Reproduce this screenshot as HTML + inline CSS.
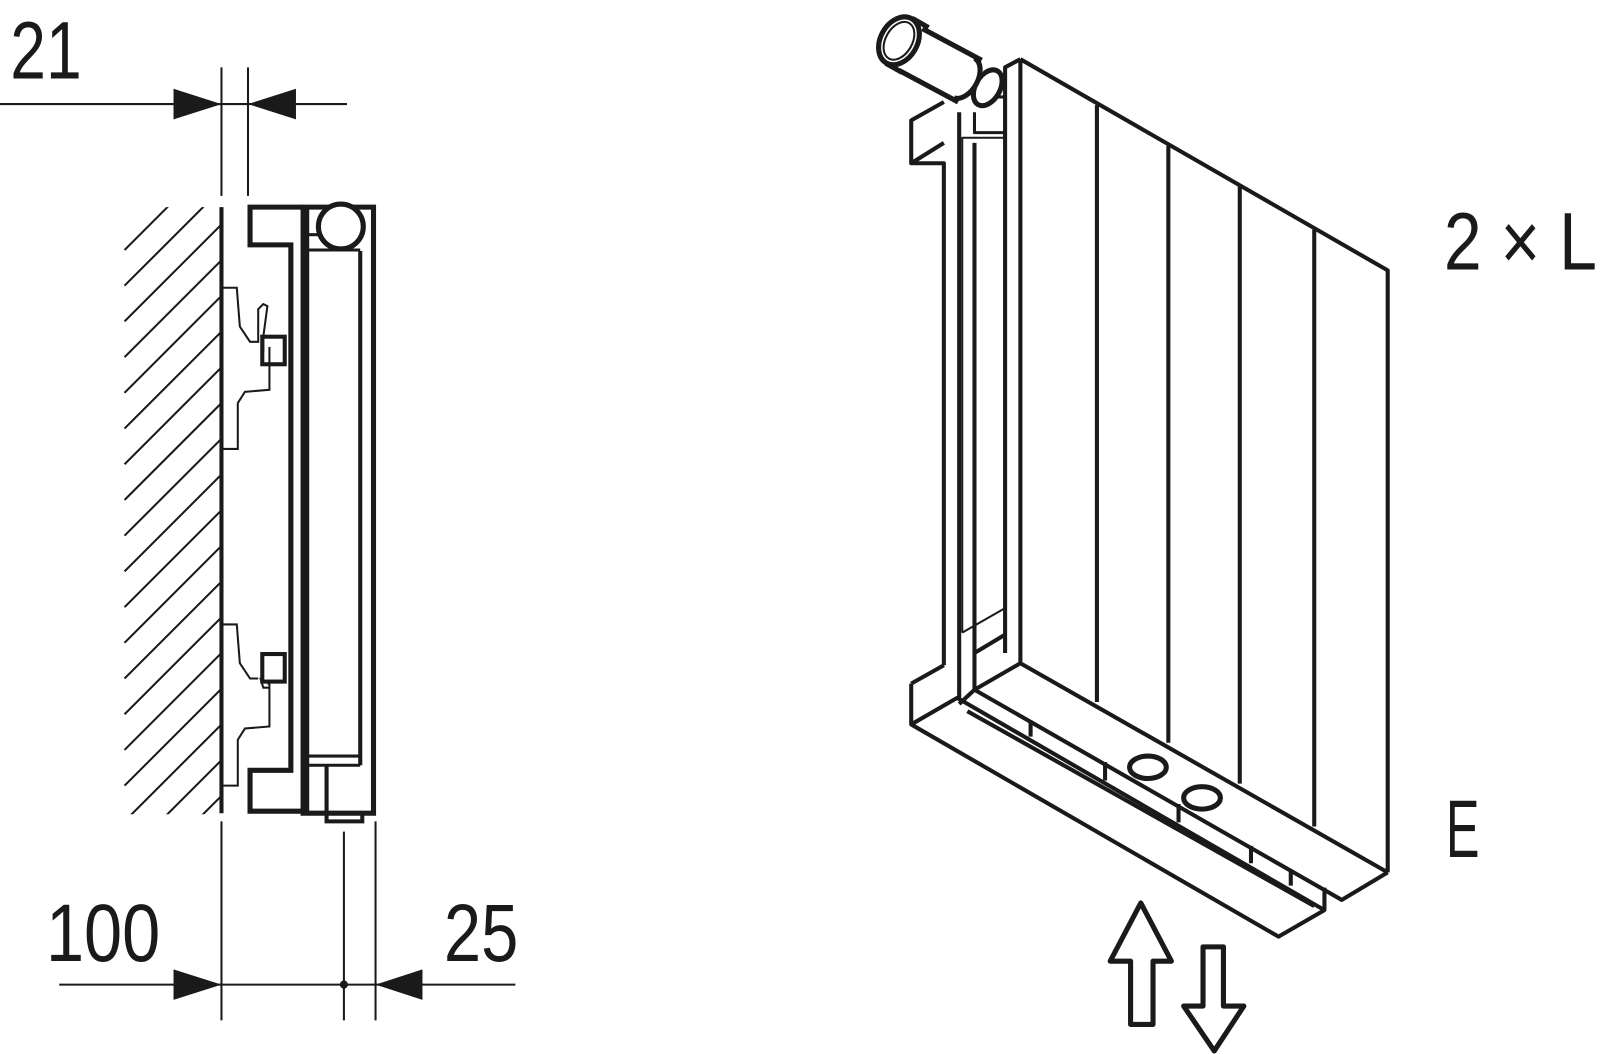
<!DOCTYPE html>
<html><head><meta charset="utf-8"><style>
html,body{margin:0;padding:0;background:#fff;}
svg{display:block;}
text{font-family:"Liberation Sans",sans-serif;fill:#1a1a1a;}
</style></head><body>
<svg width="1600" height="1054" viewBox="0 0 1568 1033" xmlns="http://www.w3.org/2000/svg">
<defs>
<clipPath id="hc"><rect x="120" y="203" width="97" height="595"/></clipPath>
</defs>
<g stroke="#1a1a1a" fill="none" stroke-linejoin="miter">
<g clip-path="url(#hc)" stroke-width="2">
<path d="M122,245 L217,150 M122,280 L217,185 M122,315 L217,220 M122,350 L217,255 M122,385 L217,290 M122,420 L217,325 M122,455 L217,360 M122,490 L217,395 M122,525 L217,430 M122,560 L217,465 M122,595 L217,500 M122,630 L217,535 M122,665 L217,570 M122,700 L217,605 M122,735 L217,640 M122,770 L217,675 M122,805 L217,710 M122,840 L217,745 M122,875 L217,780 M122,910 L217,815"/>
</g>
<line x1="217" y1="203" x2="217" y2="797" stroke-width="4"/>
<line x1="0" y1="102" x2="340" y2="102" stroke-width="2"/>
<line x1="217" y1="66" x2="217" y2="192" stroke-width="2"/>
<line x1="243" y1="66" x2="243" y2="192" stroke-width="2"/>
<path d="M170,87 L217,102 L170,117 Z M290,87 L243,102 L290,117 Z" fill="#1a1a1a" stroke="none"/>
<line x1="58" y1="965" x2="505" y2="965" stroke-width="2"/>
<line x1="217" y1="805" x2="217" y2="1000" stroke-width="2"/>
<line x1="337" y1="815" x2="337" y2="1000" stroke-width="2"/>
<line x1="368" y1="805" x2="368" y2="1000" stroke-width="2"/>
<path d="M170,950 L217,965 L170,980 Z M414,950 L368,965 L414,980 Z" fill="#1a1a1a" stroke="none"/>
<circle cx="337" cy="965" r="4" fill="#1a1a1a" stroke="none"/>
<path d="M297,203 L245,203 L245,240 L285,240 L285,755 L245,755 L245,795 L297,795" stroke-width="5"/>
<path d="M297,203 L366,203 L366,797 L297,797 Z" stroke-width="5"/>
<line x1="301" y1="203" x2="301" y2="797" stroke-width="4"/>
<line x1="353" y1="246" x2="353" y2="750" stroke-width="4"/>
<line x1="301" y1="245" x2="353" y2="245" stroke-width="3"/>
<line x1="301" y1="741" x2="353" y2="741" stroke-width="3"/>
<line x1="301" y1="750" x2="353" y2="750" stroke-width="3"/>
<circle cx="334" cy="222" r="22" fill="#fff" stroke-width="5"/>
<path d="M301,230 L312,230" stroke-width="3"/>
<path d="M320,750 L320,797 M320,797 L320,805 L355,805 L355,797" stroke-width="4"/>
<g stroke-width="2">
<path d="M217,282 L232,282 L235,320 L245,335 L253,335 L253,303 L258,298 L262,300 L258,330 L258,345"/>
<path d="M264,340 L264,382 L240,384 L233,395 L233,405 L233,440 L217,440"/>
<path d="M217,612 L232,612 L235,650 L245,665 L253,665 M262,670 L264,670 L264,712 L240,714 L233,725 L233,770 L217,770"/>
<path d="M255,664 L258,674 L264,674"/>
</g>
<rect x="257" y="330" width="22" height="27" stroke-width="4"/>
<rect x="257" y="641" width="22" height="27" stroke-width="4"/>
</g>
<text x="10" y="77" font-size="80" textLength="70" lengthAdjust="spacingAndGlyphs">21</text>
<text x="45" y="942" font-size="80" textLength="112" lengthAdjust="spacingAndGlyphs">100</text>
<text x="435" y="942" font-size="80" textLength="73" lengthAdjust="spacingAndGlyphs">25</text>
<text x="1415" y="264" font-size="80" textLength="150" lengthAdjust="spacingAndGlyphs">2 × L</text>
<text x="1417" y="840" font-size="80" textLength="33" lengthAdjust="spacingAndGlyphs">E</text>

<g stroke="#1a1a1a" fill="none" stroke-width="4" stroke-linejoin="round">
<path d="M1000,58 L1360,265 L1360,855 M1000,58 L1000,650 L1360,855"/>
<path d="M1000,58 L985,66 L985,640"/>
<path d="M1075,103 L1075,688 M1145,143 L1145,728 M1215,183 L1215,768 M1288,225 L1288,810"/>
<path d="M1000,650 L955,676 L1315,882 L1360,855"/>
<path d="M893,670 L893,710 L1253,918 L1298,892 L1298,870"/>
<path d="M893,670 L925,652 M893,710 L938,684 L1298,892"/>
<path d="M940,690 L955,676 M948,697 L1288,888"/>
<path d="M1010,706 L1010,722 M1083,747 L1083,765 M1155,788 L1155,806 M1226,829 L1226,846 M1265,852 L1265,868"/>
<ellipse cx="1125" cy="752" rx="18" ry="11" stroke-width="5"/>
<ellipse cx="1178" cy="782" rx="18" ry="11" stroke-width="5"/>
<path d="M925,652 L925,160 L893,160 L893,118 L925,100"/>
<path d="M893,160 L925,140"/>
<path d="M940,685 L940,110 M955,675 L955,640 L985,622 M955,640 L955,140"/>
<path d="M943,620 L943,135 L985,135 M943,620 L985,596" stroke-width="2"/>
<path d="M955,110 L955,130 L985,130 M970,95 L985,95 L985,135" stroke-width="3"/>
<!-- valve -->
<ellipse cx="968" cy="86" rx="12" ry="19" transform="rotate(30 968 86)" fill="#fff" stroke-width="5"/>
<path d="M904,28 L968,62 L945,103 L881,69 Z" fill="#fff" stroke="none"/>
<path d="M904,28 L962,59 M881,69 L939,100" stroke-width="5"/>
<path d="M955,57 A14,22 30 0 1 935,96" stroke-width="5"/>
<path d="M894,18 L910,27 M868,62 L884,71" stroke-width="5"/>
<ellipse cx="881" cy="40" rx="18" ry="25" transform="rotate(30 881 40)" fill="#fff" stroke-width="5"/>
<ellipse cx="881" cy="40" rx="13" ry="20" transform="rotate(30 881 40)" stroke-width="2"/>
<path d="M1118,885 L1148,942 L1130,942 L1130,1004 L1108,1004 L1108,942 L1088,942 Z" stroke-width="5"/>
<path d="M1179,928 L1199,928 L1199,986 L1219,986 L1190,1030 L1160,986 L1179,986 Z" stroke-width="5"/>
</g>
</svg>
</body></html>
